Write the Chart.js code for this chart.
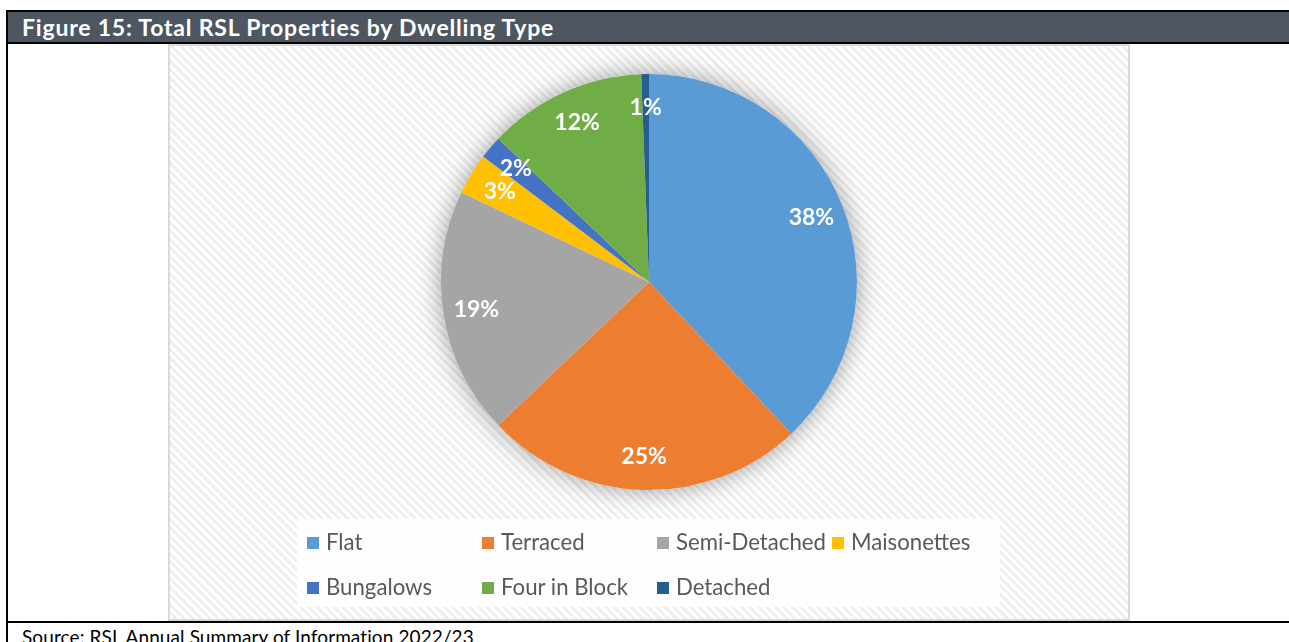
<!DOCTYPE html>
<html>
<head>
<meta charset="utf-8">
<script src="https://cdn.jsdelivr.net/npm/chart.js@4"></script>
<style>
  html, body { margin: 0; padding: 0; background: #fff; overflow: hidden; }
  body { width: 1289px; height: 642px; position: relative; font-family: Lato, "Noto Sans", sans-serif; }
  .line { position: absolute; background: #000; }
  .head {
    position: absolute; left: 8px; top: 12px; right: 0; height: 30px;
    background: #4e5761; color: #fff; font-weight: bold; font-size: 23px;
    letter-spacing: 0.8px; line-height: 31px; padding-left: 14px; white-space: nowrap;
  }
  .box {
    position: absolute; left: 168px; top: 44px; width: 958px; height: 573px;
    border: 2px solid #d9d9d9;
    background: repeating-linear-gradient(45deg, #ffffff 0px, #ffffff 3px, #efefef 3px, #efefef 6px);
  }
  .legend {
    position: absolute; left: 297px; top: 519px; width: 703px; height: 88px;
    background: rgba(255,255,255,0.88);
  }
  .legend .item {
    position: absolute; height: 45px; line-height: 45px; font-size: 22.2px;
    color: #595959; white-space: nowrap;
  }
  .legend .swatch {
    display: inline-block; width: 12px; height: 12px; margin-right: 7px;
    vertical-align: middle; position: relative; top: -1px;
  }
  .source {
    position: absolute; left: 22px; top: 624px; font-size: 19px; color: #000;
    white-space: nowrap; line-height: 26px; letter-spacing: 0.1px;
  }
</style>
</head>
<body>
<div class="line" style="left:6px;top:10px;right:0;height:2px"></div>
<div class="line" style="left:6px;top:10px;width:2px;height:632px"></div>
<div class="head">Figure 15: Total RSL Properties by Dwelling Type</div>
<div class="line" style="left:6px;top:42px;right:0;height:2px"></div>
<div class="box"><canvas id="chart"></canvas></div>
<div class="legend" id="legend"></div>
<div class="line" style="left:6px;top:621px;right:0;height:2px"></div>
<div class="source">Source: RSL Annual Summary of Information 2022/23</div>
<script>
const dwelling_types = ["Flat", "Terraced", "Semi-Detached", "Maisonettes", "Bungalows", "Four in Block", "Detached"];
const share_pct = [38.0, 24.9, 19.2, 3.2, 1.8, 12.3, 0.6];
const slice_colors = ["#5b9bd5", "#ed7d31", "#a5a5a5", "#ffc000", "#4472c4", "#70ad47", "#255e91"];

// soft glow behind the pie
const pie_shadow = {
  id: "pie_shadow",
  beforeDatasetsDraw(chart) {
    const arc = chart.getDatasetMeta(0).data[0];
    if (!arc) return;
    const ctx = chart.ctx;
    ctx.save();
    ctx.shadowColor = "rgba(0,0,0,0.38)";
    ctx.shadowBlur = 24;
    ctx.beginPath();
    ctx.arc(arc.x, arc.y, arc.outerRadius, 0, Math.PI * 2);
    ctx.fillStyle = "#ffffff";
    ctx.fill();
    ctx.restore();
  },
};

// percentage labels inside each slice
const pct_labels = {
  id: "pct_labels",
  afterDatasetsDraw(chart) {
    const ctx = chart.ctx;
    const values = chart.data.datasets[0].data;
    const total = values.reduce((a, b) => a + b, 0);
    ctx.save();
    ctx.font = "bold 23px Lato, sans-serif";
    ctx.fillStyle = "#ffffff";
    ctx.textAlign = "center";
    ctx.textBaseline = "middle";
    chart.getDatasetMeta(0).data.forEach((arc, i) => {
      const mid = (arc.startAngle + arc.endAngle) / 2;
      const r = arc.outerRadius * 0.84;
      const x = arc.x + Math.cos(mid) * r;
      const y = arc.y + Math.sin(mid) * r;
      ctx.fillText(Math.round(values[i] / total * 100) + "%", x, y);
    });
    ctx.restore();
  },
};

new Chart(document.getElementById("chart"), {
  type: "pie",
  data: {
    labels: dwelling_types,
    datasets: [{
      data: share_pct,
      backgroundColor: slice_colors,
      borderWidth: 0,
    }],
  },
  options: {
    responsive: true,
    maintainAspectRatio: false,
    animation: false,
    layout: { padding: { top: 28, bottom: 129 } },
    plugins: {
      legend: { display: false },
      tooltip: { enabled: false },
    },
  },
  plugins: [pie_shadow, pct_labels],
});

// legend laid out in the same grid as the original
const legend_el = document.getElementById("legend");
dwelling_types.forEach((name, i) => {
  const item = document.createElement("div");
  item.className = "item";
  item.style.left = (10 + (i % 4) * 175) + "px";
  item.style.top = (Math.floor(i / 4) * 45) + "px";
  item.innerHTML = '<span class="swatch" style="background:' + slice_colors[i] + '"></span>' + name;
  legend_el.appendChild(item);
});
</script>
</body>
</html>
